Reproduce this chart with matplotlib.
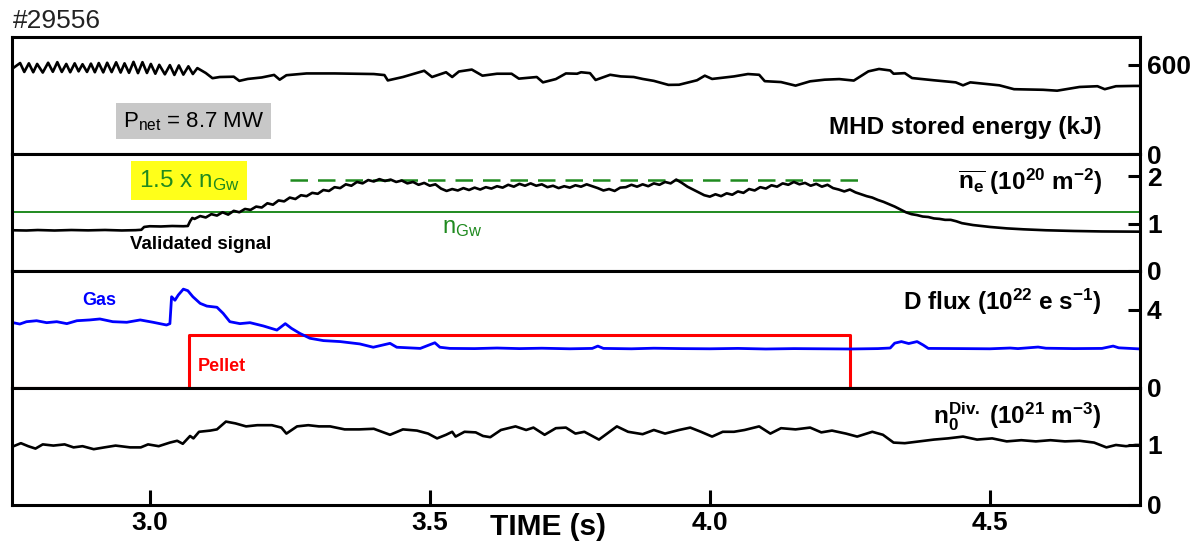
''' Shot #29556: stored energy, density, fuelling and divertor neutrals vs time '''

import matplotlib
matplotlib.use('Agg')
import matplotlib.pyplot as plt

# MHD stored energy (kJ)
wmhd_t = [2.755, 2.7686, 2.776, 2.7842, 2.792, 2.799, 2.809, 2.8186, 2.827, 2.835,
          2.843, 2.851, 2.858, 2.866, 2.873, 2.880, 2.888, 2.895, 2.902, 2.909,
          2.917, 2.924, 2.932, 2.940, 2.948, 2.955, 2.963, 2.971, 2.979, 2.987,
          2.995, 3.002, 3.010, 3.017, 3.027, 3.036, 3.044, 3.052, 3.060, 3.069,
          3.077, 3.085, 3.100, 3.112, 3.125, 3.150, 3.160, 3.175, 3.200, 3.222,
          3.232, 3.244, 3.28, 3.33, 3.40, 3.419, 3.425, 3.452, 3.49, 3.504,
          3.529, 3.540, 3.552, 3.575, 3.594, 3.620, 3.646, 3.659, 3.691, 3.702,
          3.725, 3.743, 3.763, 3.770, 3.786, 3.796, 3.822, 3.841, 3.864, 3.880,
          3.900, 3.926, 3.945, 3.977, 3.991, 4.004, 4.043, 4.068, 4.088, 4.098,
          4.127, 4.153, 4.179, 4.205, 4.231, 4.257, 4.283, 4.302, 4.322, 4.328,
          4.348, 4.361, 4.400, 4.439, 4.452, 4.465, 4.517, 4.543, 4.595, 4.620,
          4.660, 4.692, 4.705, 4.725, 4.757, 4.770]
wmhd = [575, 612, 552, 610, 550, 606, 548, 614, 553, 618,
        552, 606, 550, 610, 556, 604, 552, 608, 550, 612,
        549, 614, 551, 617, 548, 610, 546, 620, 544, 618,
        545, 606, 540, 600, 536, 598, 532, 596, 534, 590,
        538, 578, 545, 510, 518, 520, 492, 505, 515, 532,
        500, 530, 542, 542, 538, 531, 495, 518, 560, 518,
        550, 518, 555, 568, 527, 540, 540, 507, 518, 482,
        504, 542, 540, 550, 544, 498, 533, 522, 518, 505,
        492, 465, 466, 496, 527, 505, 522, 538, 533, 490,
        484, 460, 489, 500, 504, 494, 556, 572, 562, 540,
        544, 511, 496, 482, 462, 482, 462, 436, 432, 426,
        451, 456, 436, 456, 458, 458]

# line-averaged density (1e20 m^-2) and Greenwald levels
ne_t = [2.755, 2.78, 2.80, 2.83, 2.86, 2.89, 2.92, 2.95, 2.975, 2.985,
        2.99, 3.00, 3.02, 3.04, 3.06, 3.068, 3.072, 3.076, 3.08,
        3.09, 3.10, 3.11, 3.12, 3.13, 3.14, 3.15, 3.16, 3.17, 3.18,
        3.19, 3.20, 3.21, 3.22, 3.23, 3.24, 3.25, 3.26, 3.27, 3.28,
        3.29, 3.30, 3.31, 3.32, 3.33, 3.34, 3.35, 3.36, 3.37, 3.38,
        3.39, 3.40, 3.41, 3.42, 3.43, 3.44, 3.45, 3.46, 3.47, 3.48,
        3.49, 3.50, 3.51, 3.52, 3.53, 3.54, 3.55, 3.56, 3.57, 3.58,
        3.59, 3.60, 3.61, 3.62, 3.63, 3.64, 3.65, 3.66, 3.67, 3.68,
        3.69, 3.70, 3.71, 3.72, 3.73, 3.74, 3.75, 3.76, 3.77, 3.78,
        3.79, 3.80, 3.81, 3.82, 3.83, 3.84, 3.85, 3.86, 3.87, 3.88,
        3.89, 3.90, 3.91, 3.92, 3.93, 3.94, 3.95, 3.96, 3.97, 3.98,
        3.99, 4.00, 4.01, 4.02, 4.03, 4.04, 4.05, 4.06, 4.07, 4.08,
        4.09, 4.10, 4.11, 4.12, 4.13, 4.14, 4.15, 4.16, 4.17, 4.18,
        4.19, 4.20, 4.21, 4.22, 4.23, 4.24, 4.25, 4.26, 4.27, 4.28,
        4.29, 4.30, 4.31, 4.32, 4.33, 4.34, 4.35, 4.36, 4.37, 4.38,
        4.39, 4.40, 4.41, 4.42, 4.43, 4.44, 4.45, 4.47, 4.50, 4.53,
        4.56, 4.60, 4.65, 4.70, 4.77]
ne = [0.86, 0.855, 0.865, 0.855, 0.865, 0.858, 0.866, 0.856, 0.862, 0.87,
      0.93, 0.945, 0.94, 0.95, 0.945, 0.95, 1.05, 1.12, 1.10,
      1.16, 1.13, 1.20, 1.17, 1.24, 1.19, 1.27, 1.24, 1.31, 1.29,
      1.36, 1.34, 1.43, 1.40, 1.49, 1.47, 1.55, 1.52, 1.60, 1.58,
      1.65, 1.63, 1.71, 1.69, 1.77, 1.75, 1.83, 1.80, 1.88, 1.85,
      1.92, 1.89, 1.94, 1.90, 1.93, 1.88, 1.91, 1.85, 1.88, 1.82,
      1.86, 1.80, 1.83, 1.74, 1.69, 1.73, 1.70, 1.75, 1.71, 1.76,
      1.72, 1.77, 1.74, 1.79, 1.76, 1.82, 1.78, 1.84, 1.80, 1.85,
      1.80, 1.83, 1.77, 1.80, 1.75, 1.79, 1.76, 1.81, 1.78, 1.83,
      1.79, 1.75, 1.70, 1.73, 1.69, 1.76, 1.77, 1.82, 1.78, 1.83,
      1.79, 1.85, 1.82, 1.88, 1.85, 1.93, 1.86, 1.78, 1.72, 1.66,
      1.60, 1.57, 1.62, 1.58, 1.64, 1.61, 1.68, 1.65, 1.73, 1.70,
      1.77, 1.74, 1.81, 1.78, 1.85, 1.82, 1.88, 1.83, 1.86, 1.80,
      1.84, 1.78, 1.82, 1.75, 1.72, 1.68, 1.72, 1.66, 1.62, 1.58,
      1.55, 1.50, 1.46, 1.41, 1.36, 1.30, 1.24, 1.20, 1.18, 1.15,
      1.14, 1.11, 1.10, 1.08, 1.08, 1.05, 1.01, 0.97, 0.93, 0.90,
      0.88, 0.86, 0.845, 0.835, 0.83]
n_gw = 1.25
gw_limit = 1.92
gw_limit_t = [3.25, 4.268]

# D fuelling flux (1e22 e/s): gas puff and pellet window
gas_t = [2.756, 2.768, 2.780, 2.798, 2.816, 2.834, 2.852, 2.870, 2.893, 2.911,
         2.934, 2.959, 2.983, 3.006, 3.030, 3.036, 3.039, 3.045, 3.051, 3.060,
         3.068, 3.077, 3.090, 3.102, 3.120, 3.131, 3.143, 3.161, 3.179, 3.203,
         3.227, 3.242, 3.253, 3.268, 3.286, 3.310, 3.340, 3.375, 3.399, 3.429,
         3.441, 3.483, 3.509, 3.518, 3.536, 3.58, 3.62, 3.66, 3.70, 3.75,
         3.79, 3.80, 3.81, 3.86, 3.90, 3.95, 4.00, 4.05, 4.10, 4.15,
         4.20, 4.25, 4.30, 4.322, 4.33, 4.342, 4.355, 4.37, 4.381, 4.39,
         4.45, 4.50, 4.536, 4.55, 4.586, 4.60, 4.65, 4.70, 4.720, 4.73, 4.77]
gas = [3.35, 3.28, 3.40, 3.45, 3.35, 3.40, 3.30, 3.45, 3.49, 3.54,
       3.40, 3.37, 3.49, 3.37, 3.23, 3.30, 4.68, 4.50, 4.77, 5.07,
       4.99, 4.68, 4.34, 4.20, 4.14, 3.83, 3.40, 3.30, 3.35, 3.18,
       2.97, 3.30, 3.06, 2.80, 2.55, 2.43, 2.38, 2.26, 2.09, 2.29,
       2.09, 2.03, 2.32, 2.09, 2.03, 2.02, 2.05, 2.02, 2.04, 2.01,
       2.03, 2.15, 2.03, 2.01, 2.04, 2.02, 2.01, 2.03, 2.00, 2.02,
       2.01, 2.00, 2.02, 2.05, 2.30, 2.38, 2.28, 2.38, 2.20, 2.03,
       2.02, 2.01, 2.05, 2.02, 2.10, 2.04, 2.02, 2.03, 2.15, 2.06, 2.00]
pellet_t = [2.755, 3.070, 3.070, 4.250, 4.250, 4.770]
pellet = [0, 0, 2.72, 2.72, 0, 0]

# divertor neutral density (1e21 m^-3)
n0_t = [2.757, 2.770, 2.783, 2.796, 2.809, 2.828, 2.848, 2.864, 2.880, 2.900,
        2.919, 2.939, 2.965, 2.984, 2.997, 3.016, 3.036, 3.049, 3.059, 3.072,
        3.078, 3.088, 3.108, 3.120, 3.136, 3.153, 3.172, 3.192, 3.218, 3.235,
        3.244, 3.263, 3.283, 3.302, 3.322, 3.348, 3.374, 3.400, 3.429, 3.452,
        3.477, 3.497, 3.513, 3.529, 3.540, 3.546, 3.562, 3.582, 3.595, 3.608,
        3.627, 3.653, 3.672, 3.685, 3.705, 3.725, 3.743, 3.760, 3.776, 3.802,
        3.834, 3.854, 3.880, 3.900, 3.920, 3.945, 3.965, 3.984, 4.004, 4.023,
        4.043, 4.062, 4.088, 4.108, 4.127, 4.153, 4.179, 4.199, 4.218, 4.243,
        4.263, 4.290, 4.309, 4.328, 4.348, 4.374, 4.400, 4.425, 4.452, 4.477,
        4.504, 4.530, 4.556, 4.582, 4.608, 4.634, 4.660, 4.686, 4.708, 4.725,
        4.743, 4.760, 4.770]
n0 = [0.98, 1.03, 0.98, 0.94, 1.01, 0.99, 1.01, 0.96, 0.98, 0.93,
      0.96, 0.99, 0.96, 0.96, 1.01, 0.98, 1.04, 1.07, 1.02, 1.15,
      1.11, 1.22, 1.24, 1.26, 1.39, 1.36, 1.31, 1.33, 1.33, 1.29,
      1.19, 1.31, 1.33, 1.31, 1.31, 1.26, 1.26, 1.27, 1.17, 1.26,
      1.24, 1.19, 1.11, 1.17, 1.22, 1.14, 1.22, 1.21, 1.15, 1.13,
      1.25, 1.31, 1.25, 1.29, 1.17, 1.28, 1.29, 1.19, 1.22, 1.09,
      1.31, 1.22, 1.18, 1.25, 1.19, 1.25, 1.29, 1.22, 1.14, 1.22,
      1.22, 1.25, 1.31, 1.19, 1.28, 1.26, 1.29, 1.21, 1.24, 1.19,
      1.14, 1.22, 1.17, 1.04, 1.03, 1.06, 1.09, 1.11, 1.14, 1.09,
      1.11, 1.06, 1.08, 1.06, 1.08, 1.06, 1.07, 1.04, 0.96, 1.00,
      0.98, 1.00, 1.00]

time_ticks = [3.0, 3.5, 4.0, 4.5]
time_labels = ['3.0', '3.5', '4.0', '4.5']


def style_panel(ax, yticks, ylim):
    ''' Frame with inward ticks on the right-hand side only '''
    for side in ax.spines.values():
        side.set_linewidth(2.2)
    ax.set_ylim(*ylim)
    ax.yaxis.tick_right()
    ax.set_yticks(yticks)
    ax.set_yticklabels([str(v) for v in yticks])
    ax.tick_params(axis='y', direction='in', length=9, width=2.2, pad=5,
                   labelsize=19, right=True, left=False)
    ax.tick_params(axis='x', direction='in', length=11, width=2.2, top=False,
                   bottom=True, labelsize=19, pad=4)
    for lab in ax.get_yticklabels():
        lab.set_fontweight('bold')


def plot_data():
    plt.rcParams['font.family'] = ['Liberation Sans', 'DejaVu Sans']
    plt.rcParams['mathtext.fontset'] = 'custom'
    plt.rcParams['mathtext.rm'] = 'Liberation Sans'
    plt.rcParams['mathtext.bf'] = 'Liberation Sans:bold'
    plt.rcParams['mathtext.it'] = 'Liberation Sans:italic'

    fig, axes = plt.subplots(4, 1, sharex=True, figsize=(11.95, 5.42), dpi=100,
                             gridspec_kw=dict(hspace=0))
    fig.subplots_adjust(left=0.010, right=0.954, top=0.9317, bottom=0.0683)
    ax1, ax2, ax3, ax4 = axes

    # stored energy
    ax1.plot(wmhd_t, wmhd, color='black', lw=1.9)
    style_panel(ax1, [0, 600], (0, 787))
    ax1.text(0.966, 0.23, 'MHD stored energy (kJ)', transform=ax1.transAxes,
             ha='right', va='center', fontsize=17.5, fontweight='bold')
    ax1.text(0.161, 0.28, r'P$_{\mathrm{net}}$ = 8.7 MW', transform=ax1.transAxes,
             ha='center', va='center', fontsize=16,
             bbox=dict(boxstyle='square,pad=0.3', fc='#c8c8c8', ec='none'))

    # density
    ax2.axhline(n_gw, color='#1f8a1f', lw=1.4)
    ax2.plot(gw_limit_t, [gw_limit, gw_limit], color='#1f8a1f', lw=1.8,
             dashes=(7, 4))
    ax2.plot(ne_t, ne, color='black', lw=1.9)
    style_panel(ax2, [0, 1, 2], (0, 2.47))
    ax2.text(0.966, 0.76,
             r'$\overline{\mathbf{n_e}}$ (10$^{\mathbf{20}}$ m$^{\mathbf{-2}}$)',
             transform=ax2.transAxes, ha='right', va='center', fontsize=17.5,
             fontweight='bold')
    ax2.text(0.157, 0.772, r'1.5 x n$_{\mathrm{Gw}}$', transform=ax2.transAxes,
             ha='center', va='center', fontsize=17.5, color='#1f8a1f',
             bbox=dict(boxstyle='square,pad=0.3', fc='#ffff1a', ec='none'))
    ax2.text(0.1676, 0.224, 'Validated signal', transform=ax2.transAxes,
             ha='center', va='center', fontsize=13.5, fontweight='bold')
    ax2.text(0.399, 0.37, r'n$_{\mathrm{Gw}}$', transform=ax2.transAxes,
             ha='center', va='center', fontsize=17, color='#1f8a1f')

    # fuelling
    ax3.plot(pellet_t, pellet, color='#ff0000', lw=2.2)
    ax3.plot(gas_t, gas, color='#0000ff', lw=2.0)
    style_panel(ax3, [0, 4], (0, 6.0))
    ax3.text(0.966, 0.735,
             r'D flux (10$^{\mathbf{22}}$ e s$^{\mathbf{-1}}$)',
             transform=ax3.transAxes, ha='right', va='center', fontsize=17.5,
             fontweight='bold')
    ax3.text(0.077, 0.752, 'Gas', transform=ax3.transAxes, ha='center',
             va='center', fontsize=13, fontweight='bold', color='#0000ff')
    ax3.text(0.186, 0.18, 'Pellet', transform=ax3.transAxes, ha='center',
             va='center', fontsize=13, fontweight='bold', color='#ff0000')

    # divertor neutrals
    ax4.plot(n0_t, n0, color='black', lw=1.9)
    style_panel(ax4, [0, 1], (0, 1.95))
    ax4.text(0.966, 0.752,
             r'$\mathbf{n_0^{Div.}}$ (10$^{\mathbf{21}}$ m$^{\mathbf{-3}}$)',
             transform=ax4.transAxes, ha='right', va='center', fontsize=17.5,
             fontweight='bold')

    ax4.set_xlim(2.754, 4.768)
    ax4.set_xticks(time_ticks)
    ax4.set_xticklabels(time_labels, fontweight='bold')
    for ax in (ax1, ax2, ax3):
        ax.tick_params(axis='x', bottom=False, top=False)
    fig.text(0.4585, 0.027, 'TIME (s)', fontsize=21.5, fontweight='bold',
             ha='center', va='center')

    fig.text(0.011, 0.962, '#29556', fontsize=19, color='#222222',
             ha='left', va='center')

    fig.savefig('out.png', dpi=100)


if __name__ == '__main__':
    plot_data()
